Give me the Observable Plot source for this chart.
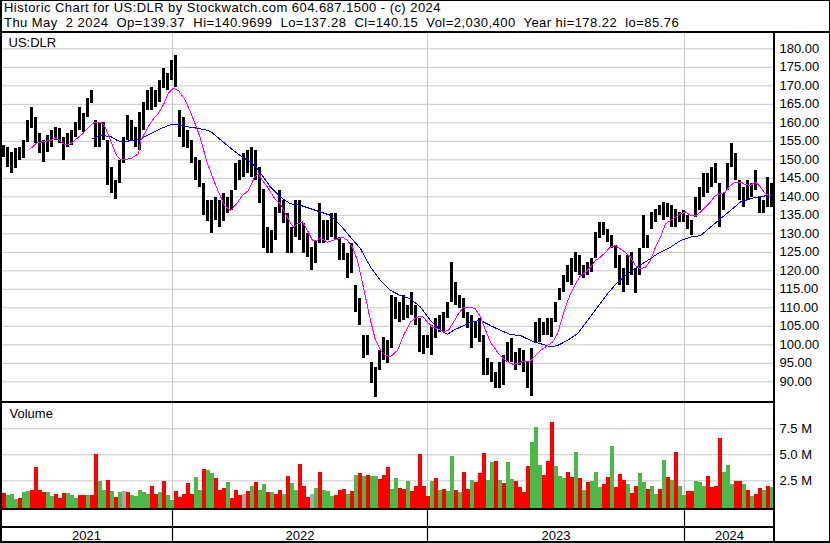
<!DOCTYPE html>
<html><head><meta charset="utf-8">
<script src="https://cdn.jsdelivr.net/npm/d3@7"></script>
<script src="https://cdn.jsdelivr.net/npm/@observablehq/plot@0.6"></script>
<style>
body{margin:0;background:#fff;}
#chart{position:relative;width:830px;height:543px;overflow:hidden;font-family:"Liberation Sans",Arial,sans-serif;background:#fff;}
.bl{position:absolute;background:#000;}
.hdr{position:absolute;left:4px;font-size:13px;letter-spacing:0.45px;line-height:13px;white-space:pre;color:#000;}
.pnl{position:absolute;left:0;}
</style></head><body>
<div id="chart">
  <div class="hdr" id="h1" style="top:1px"></div>
  <div class="hdr" id="h2" style="top:15.5px"></div>
  <div class="pnl" id="price" style="top:33px"></div>
  <div class="pnl" id="volume" style="top:403px"></div>
  <div class="pnl" id="years" style="top:510px"></div>
  <div class="bl" style="left:0;top:0;width:830px;height:1px"></div>
  <div class="bl" style="left:0;top:31px;width:830px;height:2px"></div>
  <div class="bl" style="left:0;top:401px;width:775px;height:2px"></div>
  <div class="bl" style="left:0;top:508px;width:775px;height:2px"></div>
  <div class="bl" style="left:0;top:526px;width:775px;height:2px"></div>
  <div class="bl" style="left:0;top:541px;width:830px;height:2px"></div>
  <div class="bl" style="left:0;top:0;width:2px;height:543px"></div>
  <div class="bl" style="left:773px;top:31px;width:2px;height:512px"></div>
  <div class="bl" style="left:829px;top:0;width:1px;height:543px"></div>
</div>
<script>
// ---- header texts ----
const titleLine = "Historic Chart for US:DLR by Stockwatch.com 604.687.1500 - (c) 2024";
const quoteLine = "Thu May  2 2024  Op=139.37  Hi=140.9699  Lo=137.28  Cl=140.15  Vol=2,030,400  Year hi=178.22  lo=85.76";
const symbol = "US:DLR";
const volumeTitle = "Volume";

// ---- time: trading days, grouped into buckets of 4 days ----
const bucketDays = 4;
const years = ["2021", "2022", "2023", "2024"];
const yearStartDays = [170, 425, 682];   // first trading day of 2022, 2023, 2024
const firstDay = -2, lastDay = 772;

// ---- price range per bucket (high / low) ----
const highs = [
153.9,153.4,152,153,153.4,155.2,160.6,164.2,161.5,157,
155.2,156.6,158,158.6,158.4,156.1,157,158,160.2,164.2,
162.4,166.5,168.6,160.6,160.2,160.2,155.2,148,144.4,149.8,
156.1,162,160.6,158.8,162.9,
165.5,168.7,169.6,168.7,171.4,174.6,173.2,176.8,178.2,163.3,
161.5,157.9,155.2,150.7,149.8,143.5,139,139,139.9,139,
140.8,139.9,141.7,148.9,149.8,151.6,152.5,153.4,152.5,148,
142,131.8,130.9,
137.2,141.7,139,135.4,131.8,139,139,132.7,130,126.4,
128.2,138.1,133.6,133.6,135.4,135.4,129.1,127.3,124.6,127.3,
116,112.4,102.5,102.5,95.3,93.9,98.4,102,101.1,113.3,
112.8,111.5,
113.3,110.6,114.2,110.6,107,102.5,102.5,105.2,107,107.9,
108.8,111.5,122.3,116.9,113.3,112.4,108.8,107.9,106.1,107,
102.5,96.2,95.3,92.6,95.3,97.1,100.7,101.6,98,98.9,
98.4,95.3,99,
106.1,107,106.1,107,107,111.5,115.1,118.7,121.4,123.2,
125,124.1,121.4,122.3,123.2,130.4,133.1,133.1,131.3,129.5,
126.8,124.1,120.5,124.1,125,120.5,125.9,134.9,129.5,135.8,
136.7,137.6,
138.5,138.1,137.6,136.7,135.8,136.3,134.9,133.6,139.9,142.6,
146.2,146.2,148,148.9,143.5,140.8,148.9,154.3,151.6,144.4,
142.6,144.4,143.5,147.1,139.9,139,145.3,143.5];
const lows = [
150.7,148,146.2,147.6,149.8,150.3,154.8,158.4,154.3,151.6,
149.4,152.1,153.4,155.2,154.3,149.8,153.4,153.9,156.1,158,
157.5,161.5,165.1,153.4,153.4,155.2,143,140.8,139.2,143.5,
148.9,155.2,155.2,153.4,152.5,
158,163.3,163.3,164.2,165.6,169.2,168.7,171.4,169.6,156.1,
153.4,153,148.9,144.4,142.6,135,133.2,130,133.6,131.8,
133.2,135.4,136.3,141.7,144.4,145.3,146.2,145.3,144.4,138.1,
126,124.6,124.6,
128.2,135.4,132.7,124.6,124.6,129.1,128.2,124.6,123.7,120.1,
121.9,127.3,127.3,128.2,129.1,128.2,122.8,122.8,117.8,119.2,
108.8,105.2,96.2,97.1,89.5,85.8,93,95.8,94.9,98.9,
106.9,106,
106.5,107,107.9,105.2,98,97.5,98.9,97.1,101.6,103.4,
103.4,107,111.5,110.6,109.7,107,104.3,98.9,101.6,100.7,
91.7,91.7,89.9,88.1,88.1,89,95.3,95.3,93.1,94.4,
92.6,88.1,86,
100.3,100.7,102.5,102.5,102,106.1,111.9,114.2,116.9,116,
119.6,118.7,117.8,118.7,119.6,123.2,128.6,129.5,127.7,125.9,
120.5,116,114.2,116,118.7,113.8,118.7,125.9,125.9,131.3,
133.1,134.9,
133.6,134.5,131.8,131.8,133.1,133.1,131.3,129.5,134.5,136.3,
139.9,140.8,142.6,143.5,131.8,136.3,141.7,148,144.4,139,
137.2,139,139.9,141.7,135.4,135.4,137.2,137.2];

// ---- volume per bucket (millions) and direction (r = down, g = up, n = unchanged) ----
const volumes = [
1.3,1.1,1.2,0.7,0.8,1.4,1.5,1.6,3.8,1.6,
1.4,1.4,1.0,1.2,0.8,1.3,1.3,1.1,0.8,1.1,
1.1,1.1,1.1,5.0,2.4,1.6,2.5,1.5,0.9,1.4,
1.5,1.4,1.1,1.0,1.6,1.4,1.2,2.0,1.2,1.4,
2.4,1.1,0.6,1.5,0.9,1.2,2.2,1.2,2.8,1.6,
3.6,3.5,3.2,2.7,1.6,1.8,2.3,0.8,1.6,1.1,
1.2,1.5,2.0,2.3,1.6,2.1,1.4,1.4,1.2,1.6,
1.2,2.9,2.2,1.6,4.1,2.0,0.9,1.2,1.8,3.3,
1.6,1.5,1.0,1.1,1.6,1.7,1.2,1.5,3.0,3.2,
2.9,3.0,2.9,2.9,2.6,3.0,3.8,1.7,2.7,1.8,
1.7,2.4,1.5,2.0,5.0,2.0,1.0,2.4,2.7,1.6,
1.7,1.5,4.8,1.6,1.4,3.3,1.7,2.5,2.3,3.2,
5.1,2.5,4.3,4.4,2.5,2.2,4.3,2.6,2.4,1.9,
1.4,3.9,6.2,7.6,4.0,3.0,4.4,8.1,3.9,2.9,
2.7,3.3,2.8,5.2,2.7,1.6,2.3,2.4,3.3,1.9,
2.1,2.8,5.8,1.9,3.1,2.5,2.1,1.3,2.0,3.2,
2.3,1.7,2.0,1.2,1.7,4.5,2.8,2.5,5.2,2.0,
1.1,1.5,1.5,2.4,2.3,2.0,2.9,1.9,2.0,6.6,
3.3,4.0,2.1,2.4,2.4,2.1,1.6,1.0,1.2,1.8,
1.6,2.0,1.9];
const volDir = (
"rgggrggrrr"+"rggrrrgggr"+"rgrrggrgrg"+"nrgggggrrg"+"rggrrrrrgg"+
"rggrrrgrrr"+"nrgrggrgrr"+"grggrrrngr"+"gggrrrgrgr"+"grggrrrggr"+
"rgrrrrrgrg"+"rggrgrrgrr"+"rggrgrggrr"+"rrgggrrrgg"+"grrgrgrggg"+
"rrgrrrgrrg"+"grggrgrgrg"+"grrgggrrrr"+"gggrrgrgrr"+"grg").split("");

// ---- moving averages: [trading day, price] ----
const maFast = [[28,153],[34,154.5],[42,155],[48,155.2],[52,155.9],[56,155.4],[62,154.1],[68,154.3],[74,155.7],[80,157],[86,158.8],[92,160.2],[98,160.2],[102,159.3],[108,155.2],[114,151.2],[118,150],[128,150.3],[136,151.6],[138,155],[145,158.6],[150,160.8],[155,162.2],[161,164.9],[166,168.1],[171,169.4],[176,168.7],[182,166.5],[188,162.9],[194,158.8],[198,155.7],[204,149.8],[210,145.3],[216,141.3],[222,137.7],[228,136.3],[234,138.1],[240,140.4],[246,141.7],[252,145.3],[256,146.2],[260,144.4],[265,142.6],[273,139.2],[278,138.1],[283,135.4],[288,132.9],[291,131.8],[295,132.7],[300,133.2],[305,130.9],[310,128.2],[315,128.2],[318,128.9],[325,127.7],[330,128.2],[335,128.6],[340,129.1],[345,128.2],[350,126.4],[355,122.8],[358,119.2],[363,112.9],[368,106.6],[373,101.2],[378,98.5],[383,97.1],[388,96.8],[395,98.5],[398,100.5],[401,102.5],[408,106.2],[415,107.5],[420,107.7],[425,106.1],[430,104.8],[435,104.3],[441,103.6],[446,103.9],[451,106.1],[456,108.4],[461,110.2],[468,110.2],[473,109.7],[478,107.5],[483,103.9],[488,100.7],[495,98],[501,96.2],[506,95.3],[511,94.7],[516,95],[521,95.6],[528,95.6],[533,97.1],[538,98.5],[545,99.8],[550,100.7],[555,103],[558,105.7],[563,110.2],[568,113.8],[573,116.5],[578,118.7],[583,119.6],[588,121],[593,122.8],[598,123.7],[603,125],[608,126.4],[613,126.8],[618,125.9],[623,125],[628,123.7],[633,121.4],[638,120.5],[643,121],[648,122.8],[653,126.4],[658,129.1],[663,132.7],[668,133.6],[673,134.5],[678,135.4],[683,135.9],[688,135],[693,134.8],[698,135.9],[703,137.2],[708,138.6],[713,140.4],[718,140.8],[723,141.3],[728,143.1],[733,144],[738,144],[743,143.3],[748,143.1],[753,144],[758,142.6],[763,140.8],[768,140.4]];
const maSlow = [[90,155.7],[98,156.6],[108,156.3],[115,155.2],[121,154.8],[128,155.2],[135,155.4],[138,155.7],[148,157],[158,158.4],[168,159.5],[175,159.5],[183,159],[193,158.6],[203,158.1],[208,157.7],[215,156.1],[223,154.3],[231,152.5],[240,150.7],[248,149.4],[255,147.6],[261,145.3],[268,142.6],[278,139.9],[288,138.1],[298,137.7],[308,136.8],[318,135.9],[328,135],[338,132.3],[348,129.1],[358,126],[368,121],[378,117.4],[388,114.7],[398,113.3],[408,112.4],[418,110.2],[428,106.6],[438,104],[445,102.8],[451,103.9],[458,104.8],[468,106.1],[478,106.6],[488,105.2],[498,103.9],[508,102.8],[518,102.5],[528,101.2],[538,100.3],[548,99.5],[555,99.8],[565,101.2],[575,103],[585,106.6],[595,110.2],[605,113.8],[615,116.9],[625,119.2],[635,121],[645,122.8],[655,124.6],[668,126.4],[678,128.2],[688,129.1],[698,129.5],[708,131.8],[718,134.1],[728,136.3],[738,138.6],[748,139.5],[758,140.1],[768,140.4]];

// ---- axis ticks ----
const priceTicks = [90,95,100,105,110,115,120,125,130,135,140,145,150,155,160,165,170,175,180];
const volumeTicks = [2.5, 5, 7.5];

// ---- build ----
document.getElementById("h1").textContent = titleLine;
document.getElementById("h2").textContent = quoteLine;

const bars = highs.map((hi, i) => ({t: i * bucketDays, hi, lo: lows[i], vol: volumes[i], dir: volDir[i]}));
const font = {fontFamily: "'Liberation Sans', Arial, sans-serif", fontSize: "13px", background: "transparent", color: "#000"};
const grid = "#c8c8c8";
const W = 830, MR = 56;

const price = Plot.plot({
  width: W, height: 368, marginLeft: 0, marginRight: MR, marginTop: 0, marginBottom: 0,
  style: font,
  x: {domain: [firstDay, lastDay], axis: null},
  y: {domain: [84.68, 184.14], axis: "right", ticks: priceTicks, tickFormat: d => d.toFixed(2), tickSize: 0, tickPadding: 5, label: null},
  marks: [
    Plot.ruleY(priceTicks, {stroke: grid, strokeWidth: 1}),
    Plot.ruleX(yearStartDays, {stroke: grid, strokeWidth: 1}),
    Plot.rect(bars, {x1: "t", x2: d => d.t + bucketDays, y1: "lo", y2: "hi", insetRight: 1, fill: "#000", shapeRendering: "crispEdges"}),
    Plot.line(maSlow, {x: d => d[0], y: d => d[1], stroke: "#0000ff", strokeWidth: 1, shapeRendering: "crispEdges"}),
    Plot.line(maFast, {x: d => d[0], y: d => d[1], stroke: "#ff00ff", strokeWidth: 1, shapeRendering: "crispEdges"}),
    Plot.text([symbol], {frameAnchor: "top-left", dx: 8, dy: 9, textAnchor: "start", lineAnchor: "middle", fontSize: 13, fill: "#000"})
  ]
});
document.getElementById("price").appendChild(price);

const volFloor = -0.16;
const volume = Plot.plot({
  width: W, height: 105, marginLeft: 0, marginRight: MR, marginTop: 0, marginBottom: 0,
  style: font,
  x: {domain: [firstDay, lastDay], axis: null},
  y: {domain: [volFloor, 9.93], axis: "right", ticks: volumeTicks, tickFormat: d => d.toFixed(1) + " M", tickSize: 0, tickPadding: 5, label: null},
  color: {domain: ["r", "g", "n"], range: ["#ff0000", "#4cb848", "#a8a8a8"]},
  marks: [
    Plot.ruleY(volumeTicks, {stroke: grid, strokeWidth: 1}),
    Plot.ruleX(yearStartDays, {stroke: grid, strokeWidth: 1}),
    Plot.rect(bars, {x1: "t", x2: d => d.t + bucketDays, y1: () => volFloor, y2: "vol", fill: "dir", shapeRendering: "crispEdges"}),
    Plot.text([volumeTitle], {frameAnchor: "top-left", dx: 9, dy: 10, textAnchor: "start", lineAnchor: "middle", fontSize: 13, fill: "#000"})
  ]
});
document.getElementById("volume").appendChild(volume);

const bounds = [firstDay, ...yearStartDays, lastDay];
const yearLabels = years.map((y, i) => ({year: y, mid: (bounds[i] + bounds[i + 1]) / 2}));
const band = Plot.plot({
  width: W, height: 33, marginLeft: 0, marginRight: MR, marginTop: 0, marginBottom: 0,
  style: font,
  x: {domain: [firstDay, lastDay], axis: null},
  y: {domain: [0, 33], axis: null},
  marks: [
    Plot.ruleX(yearStartDays, {y1: 2, y2: 33, stroke: "#000", strokeWidth: 1.2}),
    Plot.text(yearLabels, {x: "mid", y: () => 8, text: "year", fontSize: 13, fill: "#000", lineAnchor: "middle"})
  ]
});
document.getElementById("years").appendChild(band);
</script>
</body></html>
